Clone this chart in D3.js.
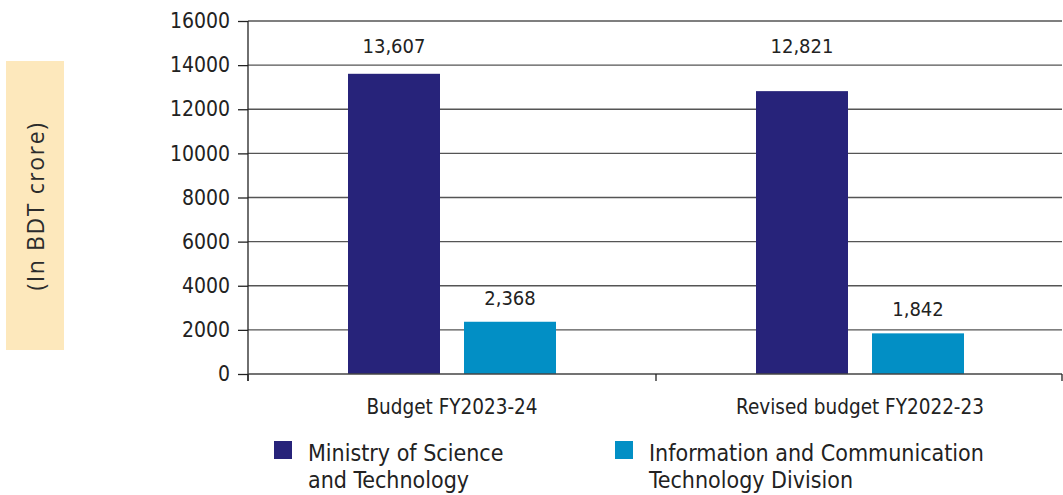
<!DOCTYPE html>
<html><head><meta charset="utf-8">
<script src="https://cdn.jsdelivr.net/npm/d3@7"></script>
<style>body{margin:0;background:#fff}svg{display:block}</style>
</head><body>
<svg id="c" width="1063" height="495"></svg>
<script>
const categories = ["Budget FY2023-24", "Revised budget FY2022-23"];
const seriesNames = ["Ministry of Science and Technology", "Information and Communication Technology Division"];
const legendLines = [["Ministry of Science", "and Technology"], ["Information and Communication", "Technology Division"]];
const mostValues = [13607, 12821];
const ictValues = [2368, 1842];
const yTicks = [0, 2000, 4000, 6000, 8000, 10000, 12000, 14000, 16000];
const colors = ["#27237a", "#028fc5"];
const yLabel = "(In BDT crore)";

const svg = d3.select("#c");
const cond = "'Liberation Sans Narrow','DejaVu Sans Condensed',sans-serif";
const x0 = 248, x1 = 1064, yTop = 21, yBot = 374;

const y = d3.scaleLinear().domain([0, 16000]).range([yBot, yTop]);
const x = d3.scaleBand().domain(categories).range([x0, x1]).paddingInner(0).paddingOuter(0);
const xs = d3.scaleBand().domain([0, 1]).range([100, 308]).paddingInner(0.207).paddingOuter(0);

// y label box
svg.append("rect").attr("x", 6).attr("y", 61).attr("width", 58).attr("height", 289).attr("fill", "#fde8bc");
svg.append("text").attr("transform", "translate(44,206) rotate(-90)")
  .attr("text-anchor", "middle").attr("font-family", "'Open Sans',sans-serif")
  .attr("font-size", 23).attr("letter-spacing", 1.6).attr("fill", "#2b2b2b").text(yLabel);

// gridlines
svg.append("g").selectAll("line").data(yTicks.filter(d => d > 0)).join("line")
  .attr("x1", x0).attr("x2", 1062).attr("y1", d => y(d)).attr("y2", d => y(d))
  .attr("stroke", "#555").attr("stroke-width", 1.3);

// y axis
const ya = svg.append("g").attr("transform", `translate(${x0},0)`)
  .call(d3.axisLeft(y).tickValues(yTicks).tickFormat(d3.format("d")).tickSize(10).tickPadding(8));
ya.select(".domain").remove();
ya.selectAll(".tick line").attr("stroke", "#222").attr("stroke-width", 1.3);
ya.selectAll(".tick text").attr("font-family", cond).attr("font-size", 21).attr("fill", "#222");
svg.append("line").attr("x1", x0).attr("x2", x0).attr("y1", yTop).attr("y2", yBot + 7)
  .attr("stroke", "#222").attr("stroke-width", 1.3);

// bars
const series = [mostValues, ictValues];
const g = svg.append("g");
series.forEach((vals, si) => {
  g.selectAll(null).data(categories).join("rect")
    .attr("x", c => x(c) + xs(si)).attr("width", xs.bandwidth())
    .attr("y", (c, i) => y(vals[i])).attr("height", (c, i) => yBot - y(vals[i]))
    .attr("fill", colors[si]);
  const topLab = y(d3.max(vals));
  g.selectAll(null).data(categories).join("text")
    .attr("x", c => x(c) + xs(si) + xs.bandwidth() / 2)
    .attr("y", (c, i) => si === 0 ? topLab - 21 : y(vals[i]) - 17)
    .attr("text-anchor", "middle").attr("font-family", cond).attr("font-size", 20).attr("fill", "#222")
    .text((c, i) => d3.format(",")(vals[i]));
});

// x axis
svg.append("line").attr("x1", x0).attr("x2", 1062).attr("y1", yBot).attr("y2", yBot)
  .attr("stroke", "#444").attr("stroke-width", 1.5);
svg.append("g").selectAll("line").data([x0, x(categories[1]), 1062]).join("line")
  .attr("x1", d => d).attr("x2", d => d).attr("y1", yBot).attr("y2", yBot + 7)
  .attr("stroke", "#222").attr("stroke-width", 1.3);
svg.append("g").selectAll("text").data(categories).join("text")
  .attr("x", c => x(c) + xs(0) + (xs(1) + xs.bandwidth() - xs(0)) / 2).attr("y", 414)
  .attr("text-anchor", "middle").attr("font-family", cond).attr("font-size", 20.5).attr("fill", "#222")
  .text(c => c);

// legend
const lx = [274, 615];
legendLines.forEach((lines, i) => {
  svg.append("rect").attr("x", lx[i]).attr("y", 441).attr("width", 18).attr("height", 18).attr("fill", colors[i]);
  lines.forEach((t, j) => svg.append("text").attr("x", lx[i] + 34).attr("y", 461 + j * 27)
    .attr("font-family", cond).attr("font-size", 23).attr("fill", "#222").text(t));
});
</script>
</body></html>
